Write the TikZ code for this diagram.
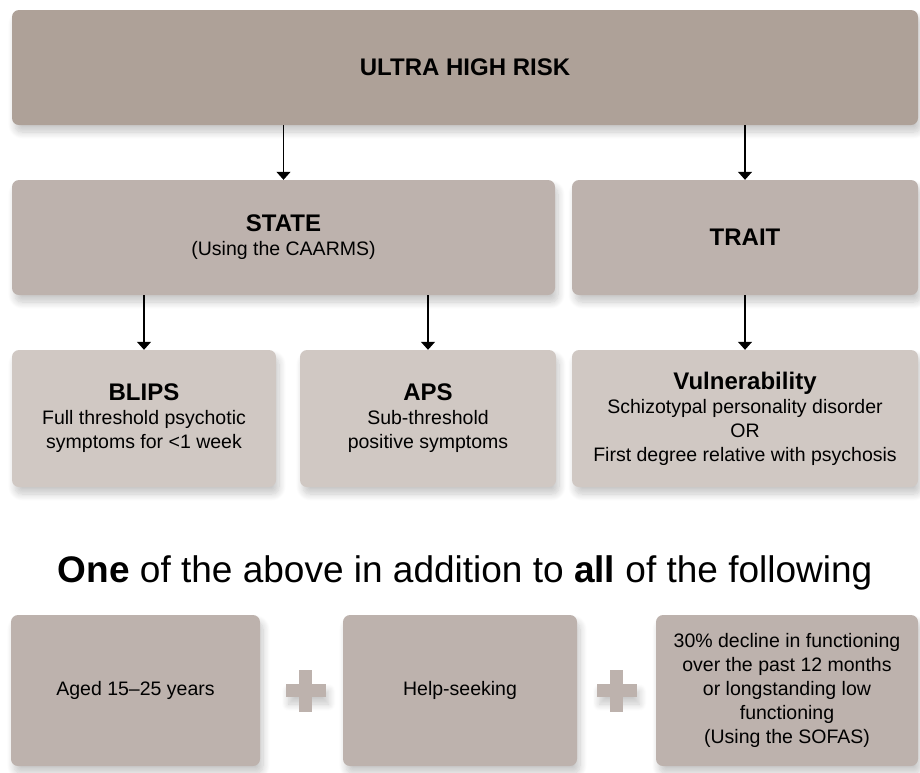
\documentclass[tikz,border=0pt]{standalone}
\usepackage{fontspec}
\setmainfont{Liberation Sans}
\usepackage{tikz}
\usepackage{xcolor}
\usetikzlibrary{arrows.meta,shadows.blur,calc}
\definecolor{riskfill}{HTML}{AEA198}
\definecolor{midfill}{HTML}{BDB2AD}
\definecolor{lowfill}{HTML}{D0C8C3}
\tikzset{
    soft-shadow/.style = {blur shadow={shadow xshift=3pt, shadow yshift=-7pt, shadow blur radius=7pt, shadow blur steps=10, shadow opacity=22}},
    any-box/.style = {rectangle, rounded corners=7pt, inner sep=4pt, align=center, soft-shadow, font=\fontsize{19.5}{24}\selectfont},
    risk-box/.style = {any-box, fill=riskfill},
    mid-box/.style = {any-box, fill=midfill},
    low-box/.style = {any-box, fill=lowfill},
    req-box/.style = {any-box, fill=midfill},
    down-arrow/.style = {line width=1.2pt, -{Triangle[width=14pt,length=8pt]}},
}
\newcommand{\heading}[1]{{\fontsize{24}{26}\selectfont\bfseries #1}}

\begin{document}
\begin{tikzpicture}[x=1pt, y=-1pt]
\useasboundingbox (0,0) rectangle (920,772);

% top levels
\node [risk-box, minimum width=906pt, minimum height=115pt] (risk) at (465,67.5) {\heading{ULTRA HIGH RISK}};
\node [mid-box, minimum width=543pt, minimum height=115pt] (state) at (283.5,237.5) {\heading{STATE}\\(Using the CAARMS)};
\node [mid-box, minimum width=346pt, minimum height=115pt] (trait) at (745,237.5) {\heading{TRAIT}};

% criteria
\node [low-box, minimum width=264pt, minimum height=137pt] (blips) at (144,418.5) {\heading{BLIPS}\\Full threshold psychotic\\ symptoms for <1 week};
\node [low-box, minimum width=256pt, minimum height=137pt] (aps) at (428,418.5) {\heading{APS}\\Sub-threshold\\positive symptoms};
\node [low-box, minimum width=346pt, minimum height=137pt] (vuln) at (745,418.5) {\heading{Vulnerability}\\Schizotypal personality disorder\\OR\\First degree relative with psychosis};

\draw [down-arrow] (risk.south -| state.north) -- (state.north);
\draw [down-arrow] (risk.south -| trait.north) -- (trait.north);
\draw [down-arrow] (state.south -| blips.north) -- (blips.north);
\draw [down-arrow] (state.south -| aps.north) -- (aps.north);
\draw [down-arrow] (trait.south) -- (trait.south |- vuln.north);

\node [font=\fontsize{37}{42}\selectfont] (rule) at (465,573) {\textbf{One} of the above in addition to \textbf{all} of the following};

% requirements
\node [req-box, minimum width=249pt, minimum height=151pt] (age) at (135.5,690.5) {Aged 15--25 years};
\node [req-box, minimum width=234pt, minimum height=151pt] (help) at (460,690.5) {Help-seeking};
\node [req-box, minimum width=262pt, minimum height=151pt] (sofas) at (787,690.5) {30\% decline in functioning\\over the past 12 months\\or longstanding low\\functioning\\(Using the SOFAS)};

\coordinate (plusA) at ($(age.east)!0.55!(help.west)$);
\coordinate (plusB) at ($(help.east)!0.5!(sofas.west)$);
\foreach \p in {plusA, plusB} {
    \fill [midfill, soft-shadow] ([xshift=-20pt, yshift=6.5pt]\p) rectangle ([xshift=20pt, yshift=-6.5pt]\p);
    \fill [midfill] ([xshift=-6.5pt, yshift=21pt]\p) rectangle ([xshift=6.5pt, yshift=-21pt]\p);
}
\end{tikzpicture}
\end{document}
